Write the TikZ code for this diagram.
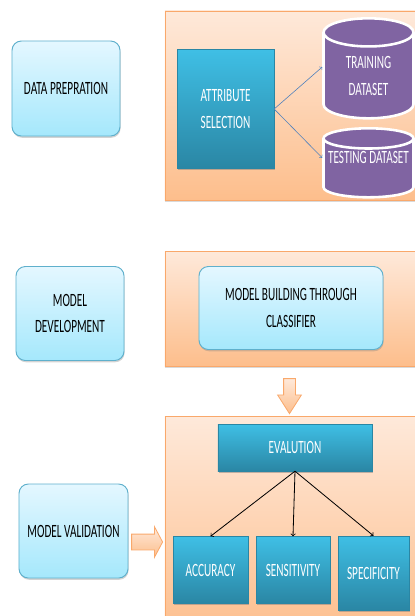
\documentclass[tikz,border=0pt]{standalone}
\usepackage{fontspec}
\setmainfont[FakeStretch=0.6]{Carlito}
\usetikzlibrary{shapes.geometric,shapes.arrows,shadows}
\definecolor{panelline}{HTML}{F9A86B}
\definecolor{paneltop}{HTML}{FEE9DA}
\definecolor{panelbot}{HTML}{FDBE8C}
\definecolor{softtop}{HTML}{E4F7FF}
\definecolor{softbot}{HTML}{A5E8FC}
\definecolor{softline}{HTML}{5FB0CC}
\definecolor{bluetop}{HTML}{3FBFE5}
\definecolor{bluebot}{HTML}{2A86A4}
\definecolor{cylpurple}{HTML}{8064A2}
\definecolor{linkblue}{HTML}{4F81BD}
\tikzset{
  panel/.style={rectangle, draw=panelline, line width=0.8pt, top color=paneltop, bottom color=panelbot, minimum width=8.1cm, drop shadow={opacity=0.3, shadow xshift=0.3pt, shadow yshift=-1.5pt}},
  softbox/.style={rectangle, rounded corners=8pt, draw=softline, line width=0.8pt, top color=softtop, bottom color=softbot, align=center, text=black, inner sep=0pt, drop shadow={opacity=0.35, shadow xshift=0.5pt, shadow yshift=-1.5pt}},
  bluebox/.style={rectangle, draw=bluebot, line width=0.3pt, top color=bluetop, bottom color=bluebot, align=center, text=white, inner sep=0pt, drop shadow={opacity=0.5, shadow xshift=0.5pt, shadow yshift=-1.5pt}},
  dataset/.style={cylinder, shape border rotate=90, draw=white, line width=2.2pt, fill=cylpurple, text=white, align=center, inner sep=0pt, minimum width=2.7cm},
  blockarrow/.style={single arrow, draw=panelline, line width=0.7pt, top color=paneltop, bottom color=panelbot},
  thinarrow/.style={->, line width=0.7pt},
}
\begin{document}
\begin{tikzpicture}[x=0.03cm, y=-0.03cm]
  \fontsize{16}{23}\selectfont
  \useasboundingbox (0,0) rectangle (414,616);

  % Fundos
  \node[panel, minimum height=5.67cm] (panelA) at (300,105.5) {};
  \node[panel, minimum height=3.45cm] (panelB) at (300,308.5) {};
  \node[panel, minimum height=6.6cm] (panelC) at (300,526) {};

  % Coluna esquerda
  \node[softbox, minimum width=3.24cm, minimum height=2.85cm] (prep) at (66,88.5) {DATA PREPRATION};
  \node[softbox, minimum width=3.24cm, minimum height=2.82cm] (devel) at (70,313.5) {MODEL\\DEVELOPMENT};
  \node[softbox, minimum width=3.27cm, minimum height=2.82cm] (valid) at (73.5,531) {MODEL VALIDATION};

  % Preparacao
  \node[bluebox, minimum width=2.91cm, minimum height=3.57cm] (attr) at (225.5,109) {ATTRIBUTE\\SELECTION};
  \node[dataset, aspect=0.62, minimum height=3cm] (train) at (368.5,76) {TRAINING\\DATASET};
  \node[dataset, aspect=0.25, minimum height=2.07cm] (test) at (368.5,168.5) {\raisebox{1.65mm}[0pt][0pt]{TESTING DATASET}};
  \draw[thinarrow, line width=0.5pt, draw=linkblue] (attr.east) -- (train.169);
  \draw[thinarrow, line width=0.5pt, draw=linkblue] (attr.east) -- (test.167);

  % Modelo
  \node[softbox, minimum width=5.52cm, minimum height=2.49cm] (build) at (291,308) {MODEL BUILDING THROUGH\\CLASSIFIER};
  \node[blockarrow, shape border rotate=270, inner sep=0.165cm, single arrow head extend=0.18cm, single arrow tip angle=65, minimum height=1.05cm] (downarrow) at (289.5,391.5) {};

  % Validacao
  \node[bluebox, minimum width=4.62cm, minimum height=1.41cm] (eval) at (295,447.5) {EVALUTION};
  \node[bluebox, minimum width=2.25cm, minimum height=2.01cm] (acc) at (210.5,570) {ACCURACY};
  \node[bluebox, minimum width=2.22cm, minimum height=2.01cm] (sens) at (293,570) {SENSITIVITY};
  \node[bluebox, minimum width=2.13cm, minimum height=2.22cm] (spec) at (373.5,573) {SPECIFICITY};
  \node[blockarrow, inner sep=0.225cm, single arrow head extend=0.225cm, single arrow tip angle=124, minimum height=0.93cm] (sidearrow) at (145,542) {};

  \draw[thinarrow] (eval.south) -- (acc.north);
  \draw[thinarrow] (eval.south) -- (sens.north);
  \draw[thinarrow] (eval.south) -- (spec.north);
\end{tikzpicture}
\end{document}
